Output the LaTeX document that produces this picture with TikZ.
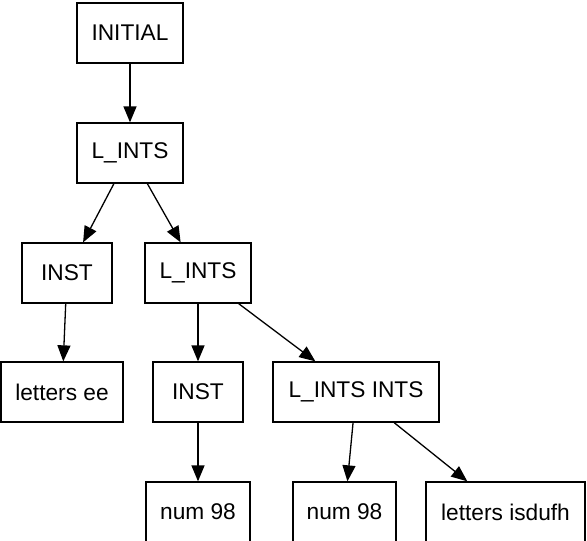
\documentclass[tikz,border=0pt]{standalone}
\usepackage{fontspec}
\setmainfont{Liberation Sans}
\usetikzlibrary{arrows.meta}
\begin{document}
\begin{tikzpicture}[x=1pt,y=-1pt,
   box/.style={draw,line width=1.3pt,minimum height=60pt,inner sep=0pt,
      font=\fontsize{22.7}{27}\selectfont},
   edge/.style={line width=1.3pt,-{Triangle[length=16pt,width=13pt]}}]
   \clip (0,0) rectangle (587,541);
   % nodes of the tree
   \node [box,minimum width=106pt] (init) at (130,33) {INITIAL};
   \node [box,minimum width=106pt] (lints) at (130,153) {L\_INTS};
   \node [box,minimum width=90pt] (inst) at (67,273) {INST};
   \node [box,minimum width=106pt] (lintsb) at (198,273) {L\_INTS};
   \node [box,minimum width=122pt] (letee) at (62,392) {letters ee};
   \node [box,minimum width=90pt] (instb) at (198,392) {INST};
   \node [box,minimum width=166pt] (lintsints) at (356,392) {L\_INTS INTS};
   \node [box,minimum width=104pt] (numa) at (198,512) {num 98};
   \node [box,minimum width=103pt] (numb) at (344.5,512) {num 98};
   \node [box,minimum width=159pt] (letis) at (505.5,512) {letters isdufh};
   % edges
   \draw [edge] (init) -- (lints);
   \draw [edge] (lints) -- (inst);
   \draw [edge] (lints) -- (lintsb);
   \draw [edge] (inst) -- (letee);
   \draw [edge] (lintsb) -- (instb);
   \draw [edge] (lintsb) -- (lintsints);
   \draw [edge] (instb) -- (numa);
   \draw [edge] (lintsints) -- (numb);
   \draw [edge] (lintsints) -- (letis);
\end{tikzpicture}
\end{document}
